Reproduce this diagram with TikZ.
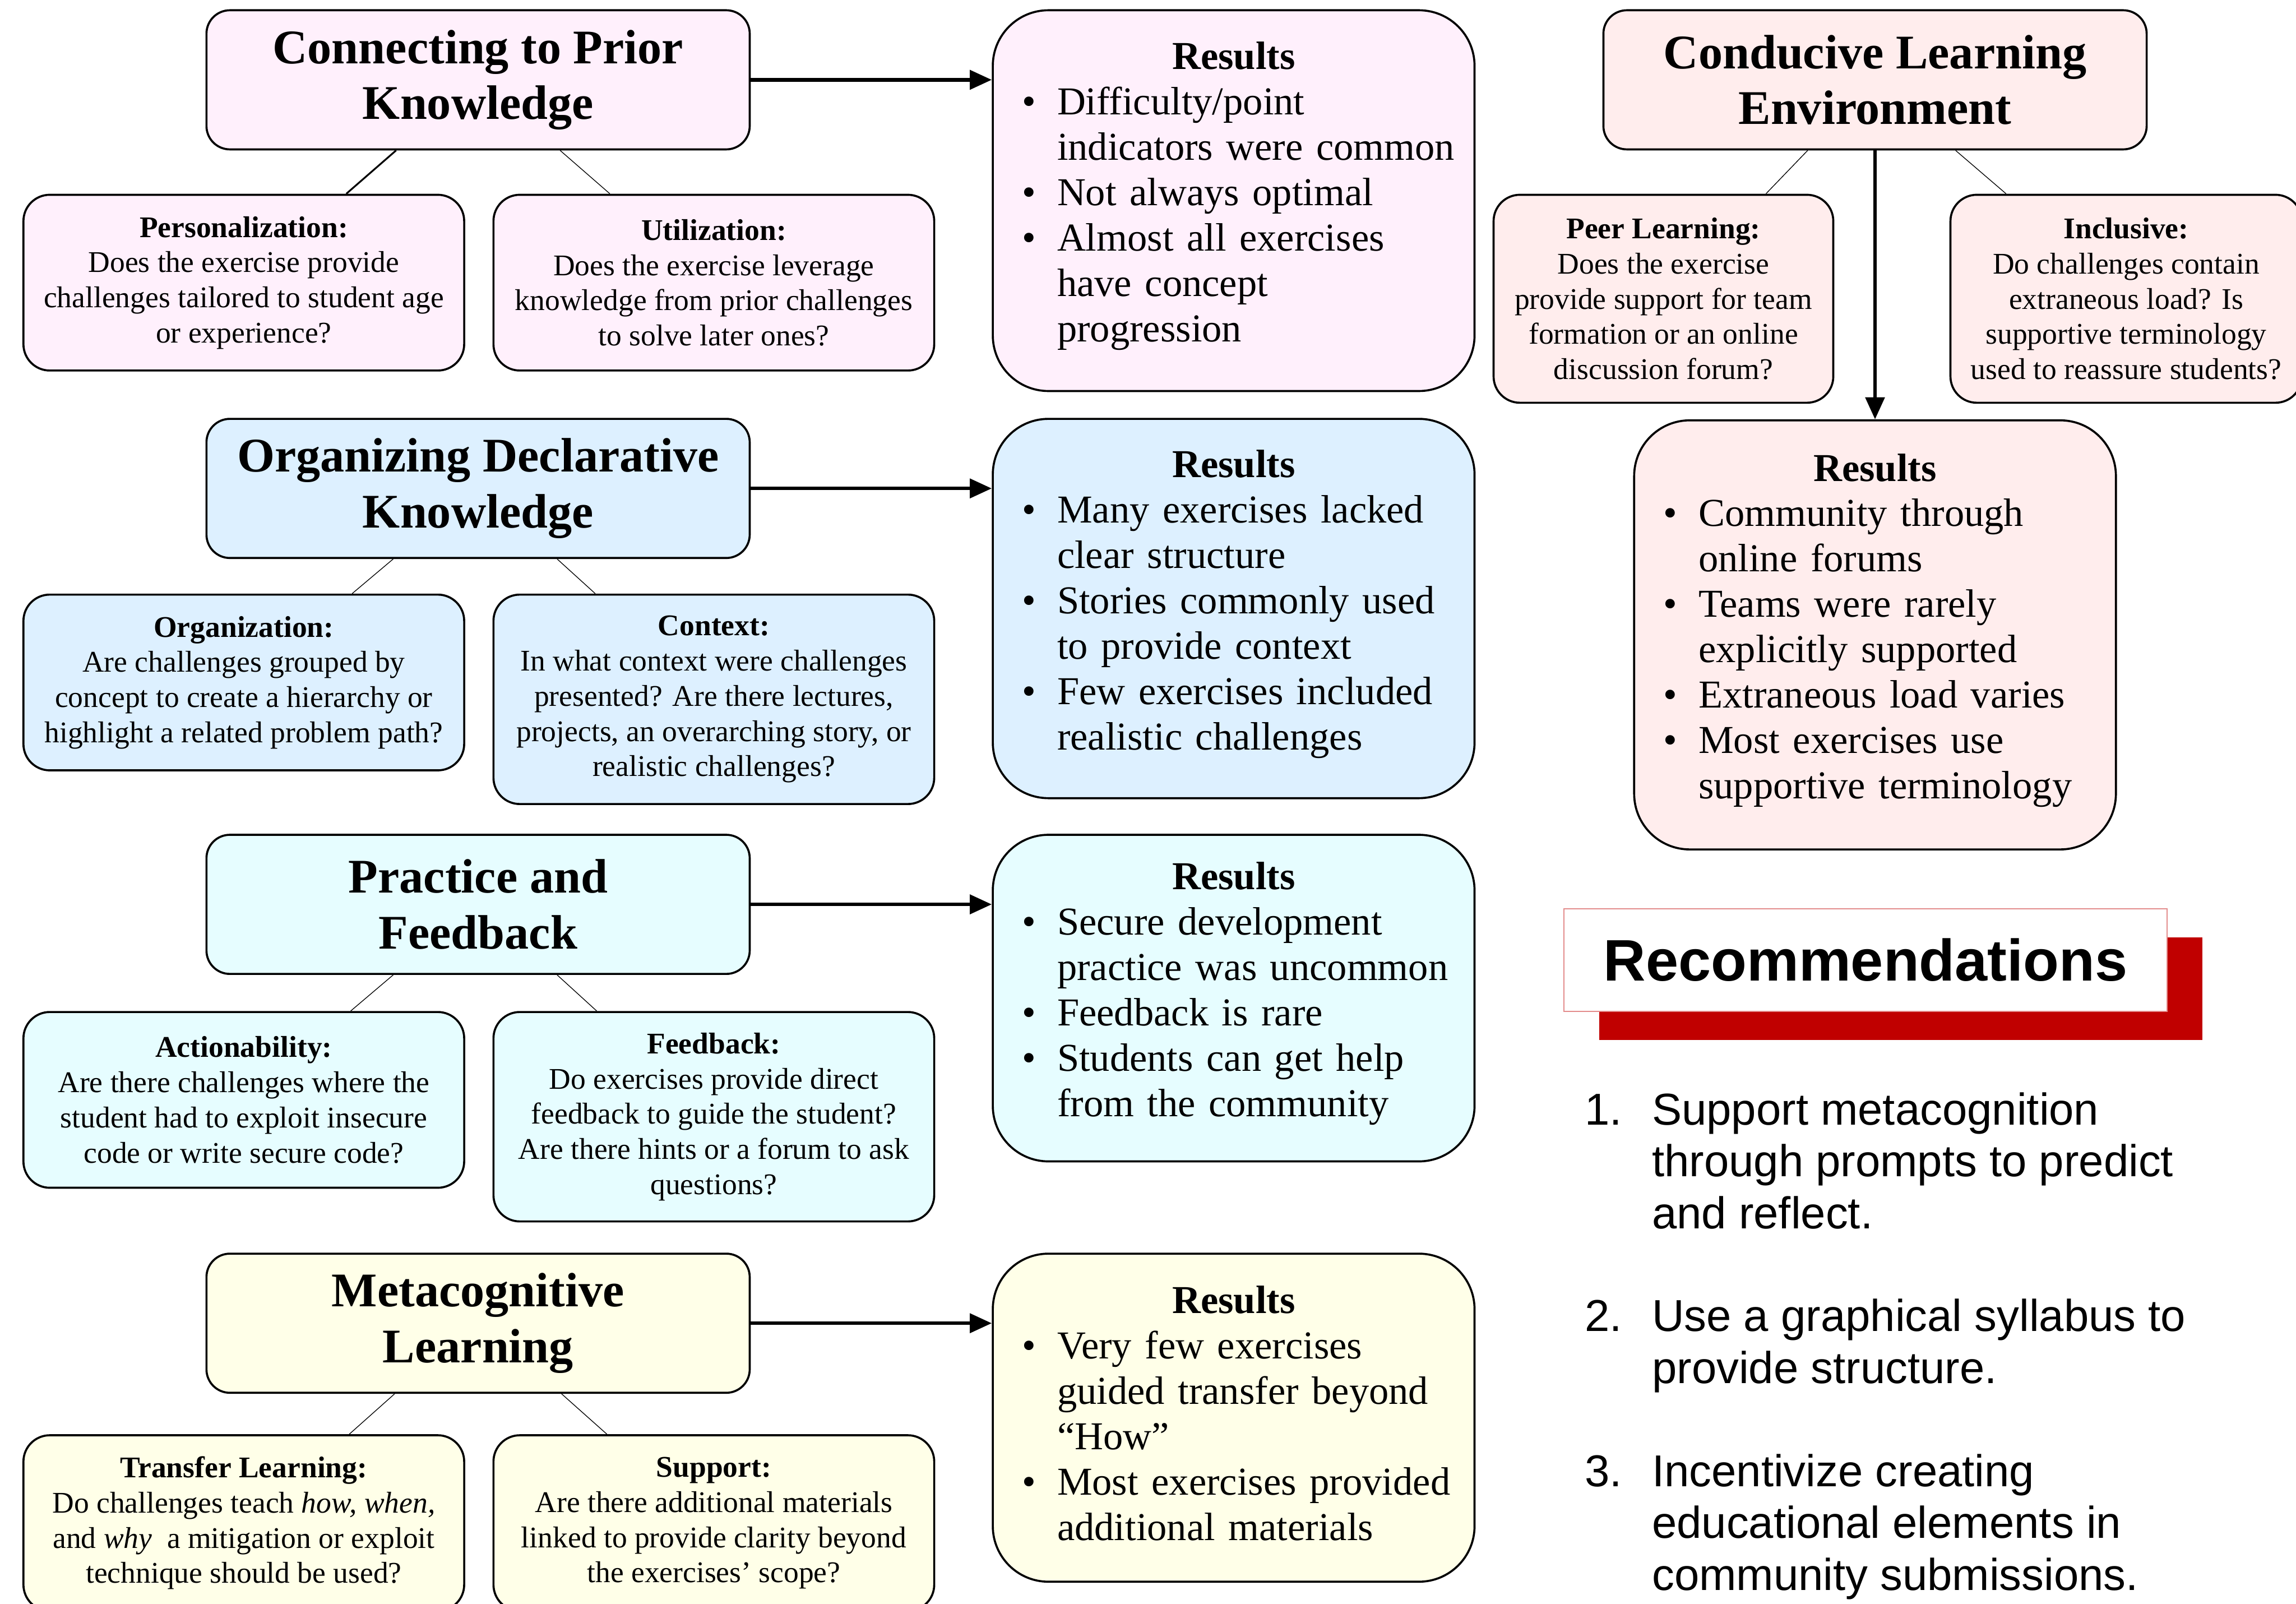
\documentclass[tikz,border=0pt]{standalone}
\usepackage{fontspec}
\setmainfont{Liberation Serif}
\newfontfamily\recfont{Liberation Sans}
\usepackage{tikz}
\usetikzlibrary{arrows.meta,shapes,calc,positioning,shadows}

\definecolor{priorFill}{HTML}{FFF0FC}
\definecolor{declFill}{HTML}{DDF0FF}
\definecolor{practFill}{HTML}{E6FDFF}
\definecolor{metaFill}{HTML}{FFFFE8}
\definecolor{envFill}{HTML}{FFEDED}
\definecolor{recRed}{HTML}{C00000}

\tikzstyle{box}=[draw=black, line width=1.4pt, align=center, inner sep=0pt]
\tikzstyle{topic box}=[box, rounded corners=16pt, minimum width=371pt, minimum height=95pt, font=\fontsize{33}{38}\selectfont\bfseries]
\tikzstyle{question box}=[box, rounded corners=18pt, minimum width=301pt, minimum height=120pt, font=\fontsize{20.5}{24}\selectfont]
\tikzstyle{result box}=[box, rounded corners=38pt, minimum width=329pt, text width=309pt, inner xsep=10pt, align=left, font=\fontsize{27}{31}\selectfont]
\tikzstyle{main arrow}=[line width=2.5pt, -{Triangle[length=15pt,width=13pt]}]
\tikzstyle{branch}=[line width=0.5pt]
\tikzstyle{rec item}=[anchor=base west, inner sep=0pt, font=\recfont\fontsize{30.5}{35.4}\selectfont]

\newcommand{\resHead}{\makebox[\linewidth]{\bfseries Results}}
\newcommand{\resItem}[1]{\par\hangindent=34pt\hangafter=1\noindent\hspace*{10pt}\makebox[24pt][l]{\textbullet}#1}
\newcommand{\resEnd}{\par\kern6pt}

\begin{document}
\begin{tikzpicture}[x=1pt, y=-1pt]
  \useasboundingbox (0,0) rectangle (1568,1095);
  \fill[white] (0,0) rectangle (1568,1095);

  % connecting to prior knowledge
  \node[topic box, fill=priorFill] (priorTopic) at (326.5,54.5) {Connecting to Prior\\Knowledge};
  \node[question box, fill=priorFill] (priorPers) at (166.5,193) {\textbf{Personalization:}\\Does the exercise provide\\challenges tailored to student age\\or experience?};
  \node[question box, fill=priorFill] (priorUtil) at (487.5,193) {\textbf{Utilization:}\\Does the exercise leverage\\knowledge from prior challenges\\to solve later ones?};
  \node[result box, fill=priorFill, minimum height=260pt] (priorRes) at (842.5,137) {\resHead
    \resItem{Difficulty/point\newline indicators were common}
    \resItem{Not always optimal}
    \resItem{Almost all exercises\newline have concept\newline progression}\resEnd};

  \draw[branch, line width=1.2pt] ([xshift=-56pt]priorTopic.south) -- ([xshift=70pt]priorPers.north);
  \draw[branch] ([xshift=56pt]priorTopic.south) -- ([xshift=-71pt]priorUtil.north);
  \path (priorTopic.east) edge[main arrow] (priorTopic.east -| priorRes.west);

  % organizing declarative knowledge
  \node[topic box, fill=declFill] (declTopic) at (326.5,333.5) {Organizing Declarative\\Knowledge};
  \node[question box, fill=declFill] (declOrg) at (166.5,466) {\textbf{Organization:}\\Are challenges grouped by\\concept to create a hierarchy or\\highlight a related problem path?};
  \node[question box, fill=declFill, minimum height=143pt] (declCtx) at (487.5,477.5) {\textbf{Context:}\\In what context were challenges\\presented? Are there lectures,\\projects, an overarching story, or\\realistic challenges?};
  \node[result box, fill=declFill, minimum height=259pt] (declRes) at (842.5,415.5) {\resHead
    \resItem{Many exercises lacked\newline clear structure}
    \resItem{Stories commonly used\newline to provide context}
    \resItem{Few exercises included\newline realistic challenges}\resEnd};

  \draw[branch] ([xshift=-58pt]declTopic.south) -- ([xshift=74pt]declOrg.north);
  \draw[branch] ([xshift=54pt]declTopic.south) -- ([xshift=-81pt]declCtx.north);
  \path (declTopic.east) edge[main arrow] (declTopic.east -| declRes.west);

  % practice and feedback
  \node[topic box, fill=practFill] (practTopic) at (326.5,617.5) {Practice and\\Feedback};
  \node[question box, fill=practFill] (practAct) at (166.5,751) {\textbf{Actionability:}\\Are there challenges where the\\student had to exploit insecure\\code or write secure code?};
  \node[question box, fill=practFill, minimum height=143pt] (practFb) at (487.5,762.5) {\textbf{Feedback:}\\Do exercises provide direct\\feedback to guide the student?\\Are there hints or a forum to ask\\questions?};
  \node[result box, fill=practFill, minimum height=223pt] (practRes) at (842.5,681.5) {\resHead
    \resItem{Secure development\newline practice was uncommon}
    \resItem{Feedback is rare}
    \resItem{Students can get help\newline from the community}\resEnd};

  \draw[branch] ([xshift=-58pt]practTopic.south) -- ([xshift=73pt]practAct.north);
  \draw[branch] ([xshift=54pt]practTopic.south) -- ([xshift=-80pt]practFb.north);
  \path (practTopic.east) edge[main arrow] (practTopic.east -| practRes.west);

  % metacognitive learning
  \node[topic box, fill=metaFill] (metaTopic) at (326.5,903.5) {Metacognitive\\Learning};
  \node[question box, fill=metaFill] (metaTrans) at (166.5,1040) {\textbf{Transfer Learning:}\\Do challenges teach \textit{how, when,}\\and \textit{why}~ a mitigation or exploit\\technique should be used?};
  \node[question box, fill=metaFill] (metaSupp) at (487.5,1040) {\textbf{Support:}\\Are there additional materials\\linked to provide clarity beyond\\the exercises' scope?};
  \node[result box, fill=metaFill, minimum height=224pt] (metaRes) at (842.5,968) {\resHead
    \resItem{Very few exercises\newline guided transfer beyond\newline ``How''}
    \resItem{Most exercises provided\newline additional materials}\resEnd};

  \draw[branch] ([xshift=-57pt]metaTopic.south) -- ([xshift=72pt]metaTrans.north);
  \draw[branch] ([xshift=57pt]metaTopic.south) -- ([xshift=-73pt]metaSupp.north);
  \path (metaTopic.east) edge[main arrow] (metaTopic.east -| metaRes.west);

  % conducive learning environment
  \node[topic box, fill=envFill] (envTopic) at (1280.5,54.5) {Conducive Learning\\Environment};
  \node[question box, fill=envFill, minimum width=232pt, minimum height=142pt] (envPeer) at (1136,204) {\textbf{Peer Learning:}\\Does the exercise\\provide support for team\\formation or an online\\discussion forum?};
  \node[question box, fill=envFill, minimum width=240pt, minimum height=142pt] (envIncl) at (1452,204) {\textbf{Inclusive:}\\Do challenges contain\\extraneous load? Is\\supportive terminology\\used to reassure students?};
  \node[result box, fill=envFill, minimum height=293pt] (envRes) at (1280.5,433.5) {\resHead
    \resItem{Community through\newline online forums}
    \resItem{Teams were rarely\newline explicitly supported}
    \resItem{Extraneous load varies}
    \resItem{Most exercises use\newline supportive terminology}\resEnd};

  \draw[branch] ([xshift=-46pt]envTopic.south) -- ([xshift=70pt]envPeer.north);
  \draw[branch] ([xshift=55pt]envTopic.south) -- ([xshift=-82pt]envIncl.north);
  \path (envTopic.south) edge[main arrow, line width=2.2pt] (envRes.north);

  % recommendations
  \node[draw=recRed!45, line width=0.6pt, fill=white, minimum width=412pt, minimum height=70pt, inner sep=0pt,
    font=\recfont\fontsize{40}{48}\selectfont\bfseries,
    drop shadow={shadow xshift=24pt, shadow yshift=-19.5pt, fill=recRed, opacity=1}] (recTitle) at (1274,655.6) {Recommendations};

  \node[rec item] (recOne) at (1082,768) {\begin{tabular}[t]{@{}p{46pt}@{}l@{}}1. & Support metacognition\\ & through prompts to predict\\ & and reflect.\end{tabular}};
  \node[rec item] (recTwo) at (1082,909) {\begin{tabular}[t]{@{}p{46pt}@{}l@{}}2. & Use a graphical syllabus to\\ & provide structure.\end{tabular}};
  \node[rec item] (recThree) at (1082,1015) {\begin{tabular}[t]{@{}p{46pt}@{}l@{}}3. & Incentivize creating\\ & educational elements in\\ & community submissions.\end{tabular}};
\end{tikzpicture}
\end{document}
